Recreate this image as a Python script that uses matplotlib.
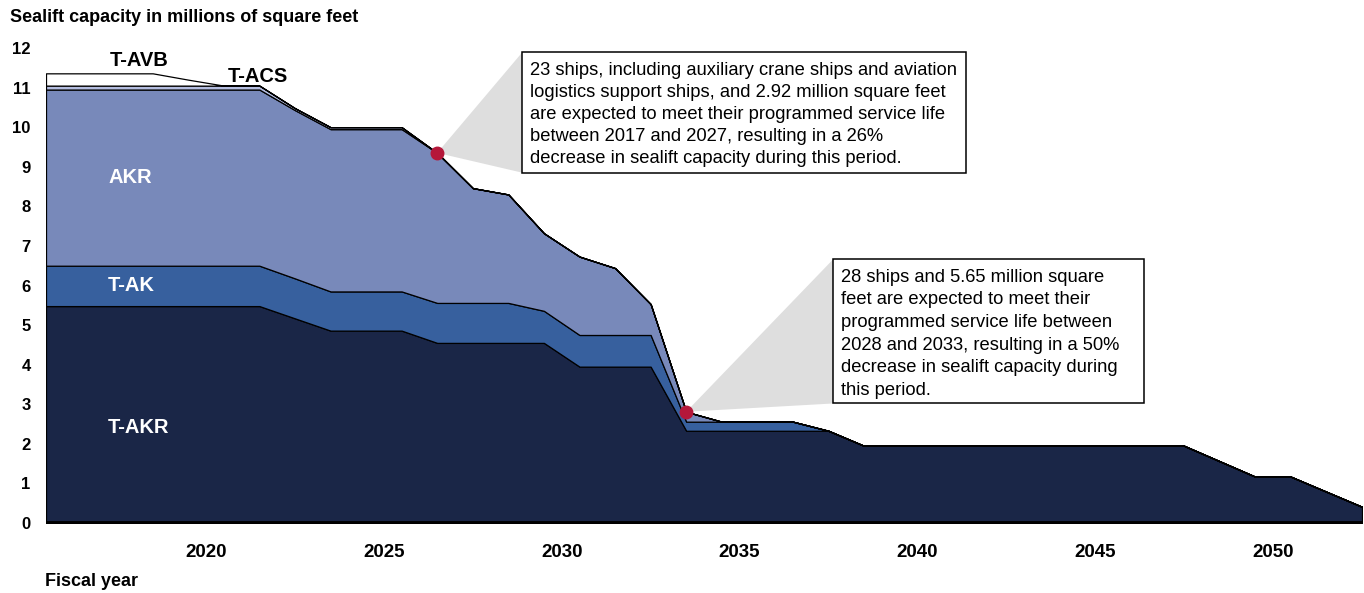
import numpy as np
import matplotlib
matplotlib.use('Agg')
import matplotlib.pyplot as plt
from matplotlib.patches import Rectangle, Polygon

plt.rcParams['font.family'] = ['Liberation Sans', 'DejaVu Sans']

# fiscal years, one point per year
years = np.arange(2016, 2054)

# capacity by ship type, millions of square feet
t_akr = [5.48, 5.48, 5.48, 5.48, 5.48, 5.48, 5.48, 5.17, 4.86, 4.86,
         4.86, 4.55, 4.55, 4.55, 4.55, 3.95, 3.95, 3.95, 2.33, 2.33,
         2.33, 2.33, 2.33, 1.95, 1.95, 1.95, 1.95, 1.95, 1.95, 1.95,
         1.95, 1.95, 1.95, 1.56, 1.17, 1.17, 0.79, 0.41]
t_ak = [1.02, 1.02, 1.02, 1.02, 1.02, 1.02, 1.02, 1.01, 0.99, 0.99,
        0.99, 1.01, 1.01, 1.01, 0.81, 0.80, 0.80, 0.80, 0.23, 0.23,
        0.23, 0.23, 0, 0, 0, 0, 0, 0, 0, 0,
        0, 0, 0, 0, 0, 0, 0, 0]
akr = [4.45, 4.45, 4.45, 4.45, 4.45, 4.45, 4.45, 4.25, 4.10, 4.10,
       4.10, 3.79, 2.90, 2.74, 1.96, 1.98, 1.69, 0.78, 0.25, 0,
       0, 0, 0, 0, 0, 0, 0, 0, 0, 0,
       0, 0, 0, 0, 0, 0, 0, 0]
t_acs = [0.10, 0.10, 0.10, 0.10, 0.10, 0.10, 0.10, 0.05, 0.05, 0.05,
         0.05, 0, 0, 0, 0, 0, 0, 0, 0, 0,
         0, 0, 0, 0, 0, 0, 0, 0, 0, 0,
         0, 0, 0, 0, 0, 0, 0, 0]
t_avb = [0.31, 0.31, 0.31, 0.31, 0.15, 0, 0, 0, 0, 0,
         0, 0, 0, 0, 0, 0, 0, 0, 0, 0,
         0, 0, 0, 0, 0, 0, 0, 0, 0, 0,
         0, 0, 0, 0, 0, 0, 0, 0]

series_names = ['T-AKR', 'T-AK', 'AKR', 'T-ACS', 'T-AVB']
colors = ['#1a2647', '#37609e', '#7889ba', '#b4bde0', '#ffffff']

tick_years = [2020, 2025, 2030, 2035, 2040, 2045, 2050]
y_ticks = list(range(0, 13))

# callouts: (year the dot sits on, text)
callout_years = [2027, 2034]
callout_texts = [
    "23 ships, including auxiliary crane ships and aviation\n"
    "logistics support ships, and 2.92 million square feet\n"
    "are expected to meet their programmed service life\n"
    "between 2017 and 2027, resulting in a 26%\n"
    "decrease in sealift capacity during this period.",
    "28 ships and 5.65 million square\n"
    "feet are expected to meet their\n"
    "programmed service life between\n"
    "2028 and 2033, resulting in a 50%\n"
    "decrease in sealift capacity during\n"
    "this period.",
]

#%%
fig = plt.figure(figsize=(13.64, 5.93), dpi=100)
ax = fig.add_axes([46/1364, 70/593, 1316/1364, 475/593])

ax.stackplot(years, t_akr, t_ak, akr, t_acs, t_avb, colors=colors,
             edgecolor='black', linewidth=0.9, zorder=2)
ax.axhline(0, color='black', lw=3.5, zorder=4)

ax.set_xlim(2016, 2053)
ax.set_ylim(0, 12)
for s in ax.spines.values():
    s.set_visible(False)

ax.set_yticks(y_ticks)
ax.set_yticklabels([str(v) for v in y_ticks], fontsize=12, fontweight='bold')
ax.set_xticks([y + 0.5 for y in tick_years])
ax.set_xticklabels([str(y) for y in tick_years], fontsize=13.5, fontweight='bold')
ax.tick_params(axis='y', length=0, pad=11)
ax.tick_params(axis='x', length=0, pad=15)

# series labels
ax.text(2017.8, 11.69, 'T-AVB', fontsize=14.5, fontweight='bold', va='center')
ax.text(2021.1, 11.29, 'T-ACS', fontsize=14.5, fontweight='bold', va='center')
ax.text(2017.75, 8.74, 'AKR', fontsize=14.5, fontweight='bold', color='white', va='center')
ax.text(2017.75, 6.01, 'T-AK', fontsize=14.5, fontweight='bold', color='white', va='center')
ax.text(2017.75, 2.42, 'T-AKR', fontsize=14.5, fontweight='bold', color='white', va='center')

# callout boxes (left, right, top, bottom) in data units
boxes = [(2029.39, 2041.88, 11.89, 8.85), (2038.14, 2046.86, 6.67, 3.02)]
spacing = [1.38, 1.43]
akr_top = np.array(t_akr) + np.array(t_ak) + np.array(akr)
for yr, txt, (l, r, t, b), ls in zip(callout_years, callout_texts, boxes, spacing):
    i = list(years).index(yr)
    dx, dy = yr, akr_top[i]
    ax.add_patch(Polygon([(dx, dy), (l, t), (l, b)], closed=True,
                         facecolor='#dedede', edgecolor='none', zorder=5, clip_on=False))
    ax.add_patch(Rectangle((l, b), r - l, t - b, facecolor='white',
                           edgecolor='black', lw=1.1, zorder=6, clip_on=False))
    ax.text(l + 0.22, t - 0.25, txt, fontsize=13.2, va='top', ha='left',
            linespacing=ls, zorder=7)
    ax.plot(dx, dy, 'o', color='#b5173a', ms=9, zorder=8, clip_on=False)

fig.text(10/1364, 1 - 18/593, 'Sealift capacity in millions of square feet',
         fontsize=13, fontweight='bold', va='center')
fig.text(45/1364, 1 - 582/593, 'Fiscal year', fontsize=13, fontweight='bold',
         va='center')

fig.savefig('out.png', dpi=100)
